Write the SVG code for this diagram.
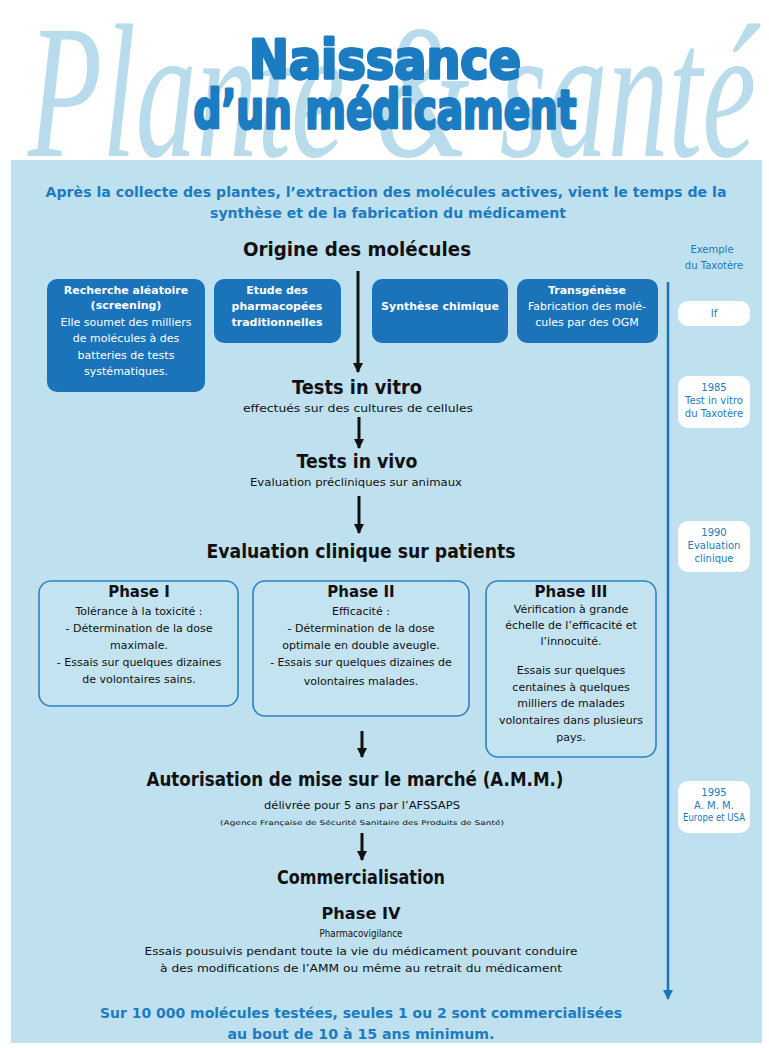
<svg xmlns="http://www.w3.org/2000/svg" width="769" height="1048" viewBox="0 0 769 1048">
<style>
.wm{font-family:"Liberation Serif",serif;font-style:italic;font-size:190px;fill:#b8dcec}
.title{font-family:"DejaVu Sans",sans-serif;font-weight:bold;font-size:54px;fill:#1c7cc2;stroke:#1c7cc2;stroke-width:3;stroke-linejoin:round;text-anchor:middle}
.sub{font-family:"DejaVu Sans",sans-serif;font-weight:bold;font-size:14px;fill:#1d7bc0;text-anchor:middle}
.h{font-family:"DejaVu Sans",sans-serif;font-weight:bold;font-size:20px;fill:#111;text-anchor:middle}
.h2{font-family:"DejaVu Sans",sans-serif;font-weight:bold;font-size:15px;fill:#111;text-anchor:middle}
.t{font-family:"DejaVu Sans",sans-serif;font-size:11px;fill:#111;text-anchor:middle}
.tiny{font-family:"DejaVu Sans",sans-serif;font-size:6.5px;fill:#111;text-anchor:middle}
.box{fill:#1b73b9}
.bt{font-family:"DejaVu Sans",sans-serif;font-size:11px;fill:#fff;text-anchor:middle}
.bb{font-weight:bold}
.ph{fill:#c3e3f0;stroke:#2f82c3;stroke-width:1.6}
.tl{fill:#fff}
.tlt{font-family:"DejaVu Sans",sans-serif;font-size:10px;fill:#1d7bc0;text-anchor:middle}
.arr{stroke:#111;stroke-width:3;fill:none}
</style>
<defs>
<marker id="ah" viewBox="0 0 10 10" refX="9" refY="5" markerWidth="3.4" markerHeight="3.4" orient="auto" markerUnits="strokeWidth">
<path d="M0,0 L10,5 L0,10 z" fill="#111"/>
</marker>
<marker id="ahb" viewBox="0 0 10 10" refX="9" refY="5" markerWidth="4" markerHeight="4" orient="auto" markerUnits="strokeWidth">
<path d="M0,0 L10,5 L0,10 z" fill="#1d74b9"/>
</marker>
</defs>
<rect x="0" y="0" width="769" height="1048" fill="#fff"/>
<text class="wm" x="28" y="156" textLength="728" lengthAdjust="spacingAndGlyphs">Plante &amp; santé</text>
<rect x="11" y="160" width="751" height="883" fill="#bfe1ef"/>
<g id="title">
<text class="title" x="385" y="78" textLength="272" lengthAdjust="spacingAndGlyphs">Naissance</text>
<text class="title" x="385" y="128" textLength="383" lengthAdjust="spacingAndGlyphs">d’un médicament</text>
</g>
<g id="intro">
<text class="sub" x="386" y="197" textLength="681" lengthAdjust="spacingAndGlyphs">Après la collecte des plantes, l’extraction des molécules actives, vient le temps de la</text>
<text class="sub" x="388" y="218" textLength="356" lengthAdjust="spacingAndGlyphs">synthèse et de la fabrication du médicament</text>
</g>
<g id="origine"><text class="h" x="357" y="256" textLength="228" lengthAdjust="spacingAndGlyphs">Origine des molécules</text></g>
<g id="exemple">
<text class="tlt" x="712" y="253" font-size="11">Exemple</text>
<text class="tlt" x="714" y="269" font-size="11">du Taxotère</text>
</g>
<g id="screening">
<rect class="box" x="47" y="279" width="158" height="113" rx="10"/>
<text class="bt bb" x="126" y="294">Recherche aléatoire</text>
<text class="bt bb" x="126" y="309">(screening)</text>
<text class="bt" x="126" y="326">Elle soumet des milliers</text>
<text class="bt" x="126" y="342">de molécules à des</text>
<text class="bt" x="126" y="359">batteries de tests</text>
<text class="bt" x="126" y="375">systématiques.</text>
</g>
<g id="pharmacopees">
<rect class="box" x="214" y="279" width="127" height="64" rx="10"/>
<text class="bt bb" x="277" y="294">Etude des</text>
<text class="bt bb" x="277" y="310">pharmacopées</text>
<text class="bt bb" x="277" y="326">traditionnelles</text>
</g>
<g id="synthese">
<rect class="box" x="372" y="279" width="136" height="64" rx="10"/>
<text class="bt bb" x="440" y="310">Synthèse chimique</text>
</g>
<g id="transgenese">
<rect class="box" x="517" y="279" width="141" height="64" rx="10"/>
<text class="bt bb" x="587" y="294">Transgénèse</text>
<text class="bt" x="587" y="310">Fabrication des molé-</text>
<text class="bt" x="587" y="326">cules par des OGM</text>
</g>
<g id="vitro">
<text class="h" x="357" y="394" font-size="19" textLength="130" lengthAdjust="spacingAndGlyphs">Tests in vitro</text>
<text class="t" x="358" y="412" textLength="230" lengthAdjust="spacingAndGlyphs">effectués sur des cultures de cellules</text>
</g>
<g id="vivo">
<text class="h" x="357" y="468" font-size="19" textLength="121" lengthAdjust="spacingAndGlyphs">Tests in vivo</text>
<text class="t" x="356" y="486" textLength="212" lengthAdjust="spacingAndGlyphs">Evaluation précliniques sur animaux</text>
</g>
<g id="clinique"><text class="h" x="361" y="558" textLength="309" lengthAdjust="spacingAndGlyphs">Evaluation clinique sur patients</text></g>
<g id="phase1">
<rect class="ph" x="39" y="581" width="199" height="125" rx="12"/>
<text class="h2" x="139" y="597">Phase I</text>
<text class="t" x="139" y="615">Tolérance à la toxicité :</text>
<text class="t" x="139" y="632">- Détermination de la dose</text>
<text class="t" x="139" y="649">maximale.</text>
<text class="t" x="139" y="666">- Essais sur quelques dizaines</text>
<text class="t" x="139" y="683">de volontaires sains.</text>
</g>
<g id="phase2">
<rect class="ph" x="253" y="581" width="216" height="135" rx="12"/>
<text class="h2" x="361" y="597">Phase II</text>
<text class="t" x="361" y="615">Efficacité :</text>
<text class="t" x="361" y="632">- Détermination de la dose</text>
<text class="t" x="361" y="649">optimale en double aveugle.</text>
<text class="t" x="361" y="666">- Essais sur quelques dizaines de</text>
<text class="t" x="361" y="685">volontaires malades.</text>
</g>
<g id="phase3">
<rect class="ph" x="486" y="581" width="170" height="176" rx="12"/>
<text class="h2" x="571" y="597">Phase III</text>
<text class="t" x="571" y="613">Vérification à grande</text>
<text class="t" x="571" y="629">échelle de l’efficacité et</text>
<text class="t" x="571" y="645">l’innocuité.</text>
<text class="t" x="571" y="674">Essais sur quelques</text>
<text class="t" x="571" y="691">centaines à quelques</text>
<text class="t" x="571" y="707">milliers de malades</text>
<text class="t" x="571" y="724">volontaires dans plusieurs</text>
<text class="t" x="571" y="741">pays.</text>
</g>
<g id="amm">
<text class="h" x="355" y="786" textLength="417" lengthAdjust="spacingAndGlyphs">Autorisation de mise sur le marché (A.M.M.)</text>
<text class="t" x="362" y="809" textLength="196" lengthAdjust="spacingAndGlyphs">délivrée pour 5 ans par l’AFSSAPS</text>
<text class="tiny" x="362" y="825" textLength="284" lengthAdjust="spacingAndGlyphs">(Agence Française de Sécurité Sanitaire des Produits de Santé)</text>
</g>
<g id="commercialisation">
<text class="h" x="361" y="884" textLength="168" lengthAdjust="spacingAndGlyphs">Commercialisation</text>
<text class="h2" x="361" y="919" textLength="79" lengthAdjust="spacingAndGlyphs">Phase IV</text>
<text class="t" x="361" y="937" textLength="83" lengthAdjust="spacingAndGlyphs">Pharmacovigilance</text>
<text class="t" x="361" y="955" textLength="433" lengthAdjust="spacingAndGlyphs">Essais pousuivis pendant toute la vie du médicament pouvant conduire</text>
<text class="t" x="361" y="972" textLength="402" lengthAdjust="spacingAndGlyphs">à des modifications de l’AMM ou même au retrait du médicament</text>
</g>
<g id="conclusion">
<text class="sub" x="361" y="1018" textLength="522" lengthAdjust="spacingAndGlyphs">Sur 10 000 molécules testées, seules 1 ou 2 sont commercialisées</text>
<text class="sub" x="361" y="1039" textLength="267" lengthAdjust="spacingAndGlyphs">au bout de 10 à 15 ans minimum.</text>
</g>
<g id="t-if"><rect class="tl" x="678" y="301" width="72" height="25" rx="10"/><text class="tlt" x="714" y="317">If</text></g>
<g id="t-1985"><rect class="tl" x="678" y="376" width="72" height="52" rx="10"/>
<text class="tlt" x="714" y="391">1985</text><text class="tlt" x="714" y="404">Test in vitro</text><text class="tlt" x="714" y="417">du Taxotère</text></g>
<g id="t-1990"><rect class="tl" x="678" y="521" width="72" height="51" rx="10"/>
<text class="tlt" x="714" y="536">1990</text><text class="tlt" x="714" y="549">Evaluation</text><text class="tlt" x="714" y="562">clinique</text></g>
<g id="t-1995"><rect class="tl" x="678" y="781" width="72" height="52" rx="10"/>
<text class="tlt" x="714" y="796">1995</text><text class="tlt" x="714" y="809">A. M. M.</text><text class="tlt" x="714" y="821" font-size="7" textLength="62" lengthAdjust="spacingAndGlyphs">Europe et USA</text></g>
<g id="connectors">
<line class="arr" x1="358" y1="271" x2="358" y2="372" marker-end="url(#ah)"/>
<line class="arr" x1="359" y1="417" x2="359" y2="448" marker-end="url(#ah)"/>
<line class="arr" x1="359" y1="496" x2="359" y2="533" marker-end="url(#ah)"/>
<line class="arr" x1="362" y1="731" x2="362" y2="757" marker-end="url(#ah)"/>
<line class="arr" x1="362" y1="833" x2="362" y2="860" marker-end="url(#ah)"/>
<line x1="668" y1="282" x2="668" y2="999" stroke="#1d74b9" stroke-width="2.5" marker-end="url(#ahb)"/>
</g>
</svg>
